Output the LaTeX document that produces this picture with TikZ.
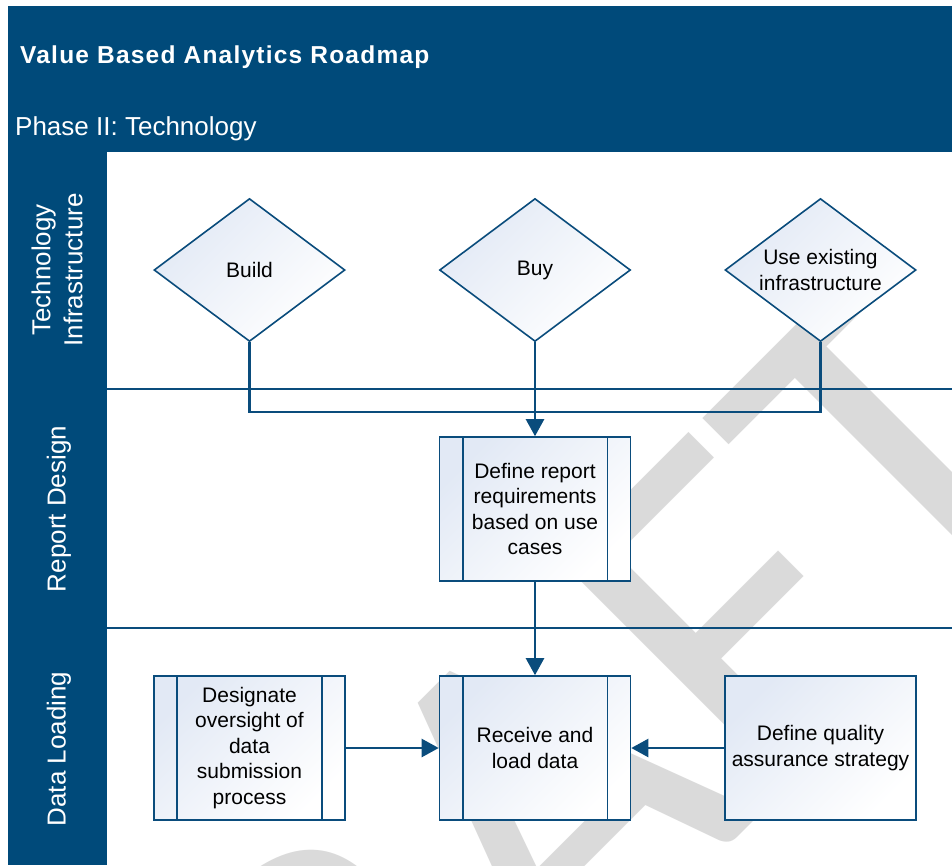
\documentclass[tikz,border=0pt]{standalone}
\usepackage{fontspec}
\setmainfont{Liberation Sans}
\newfontfamily\wmfont{Carlito}
\usetikzlibrary{shapes.geometric,arrows.meta,calc}
\definecolor{hdr}{RGB}{0,74,122}
\definecolor{ln}{RGB}{10,76,124}
\definecolor{boxa}{RGB}{226,233,245}
\definecolor{wm}{RGB}{218,218,218}
\begin{document}
\begin{tikzpicture}[x=1pt,y=-1pt,
  lbl/.style={text=white, font=\fontsize{26}{32}\selectfont, rotate=90, align=center, inner sep=0pt},
  dec/.style={diamond, draw=ln, line width=1.6pt, top color=boxa, bottom color=white, shading angle=45,
    minimum width=191pt, minimum height=143pt, inner sep=0pt, shape aspect=1.34, align=center,
    font=\fontsize{21}{25.5}\selectfont},
  proc/.style={rectangle, draw=ln, line width=1.6pt, top color=boxa, bottom color=white, shading angle=45,
    minimum width=191pt, minimum height=144pt, inner sep=0pt, align=center,
    font=\fontsize{21}{25.5}\selectfont},
  conn/.style={draw=ln, line width=2.4pt},
  arr/.style={conn, -{Triangle[length=17pt,width=18pt]}},
  bar/.style={draw=ln, line width=1.6pt},
]
\useasboundingbox (0,0) rectangle (952,865);
\fill[white] (0,0) rectangle (952,865);
% frame
\fill[hdr] (8,6) rectangle (952,865);
\fill[white] (107,152) rectangle (952,865);
% watermark
\begin{scope}
\clip (107,152) rectangle (952,865);
\node[rotate=45, text=wm, font=\wmfont\fontsize{500}{520}\selectfont, inner sep=0pt] (wmark) at (510,838) {DRAFT};
\end{scope}
% lane separators
\draw[ln, line width=2pt] (107,389) -- (952,389);
\draw[ln, line width=2pt] (107,628) -- (952,628);
% title texts
\node[anchor=base west, text=white, inner sep=0pt,
  font=\bfseries\fontsize{24.5}{28}\selectfont\addfontfeature{LetterSpace=5}] (title) at (20,63) {Value Based Analytics Roadmap};
\node[anchor=base west, text=white, inner sep=0pt, font=\fontsize{26}{30}\selectfont] (phase) at (15,135) {Phase II: Technology};
% lane labels
\node[lbl] (lane1) at (57,270) {Technology\\Infrastructure};
\node[lbl] (lane2) at (59,509) {Report Design};
\node[lbl] (lane3) at (59,749) {Data Loading};
% decisions
\node[dec] (build) at (249.5,270) {Build};
\node[dec] (buy) at (535,270) {Buy};
\node[dec] (use) at (820.5,270) {Use existing\\infrastructure};
% processes
\node[proc] (req) at (535,509) {Define report\\requirements\\based on use\\cases};
\node[proc] (recv) at (535,748) {Receive and\\load data};
\node[proc] (desig) at (249.5,748) {Designate\\oversight of\\data\\submission\\process};
\node[proc] (qual) at (820.5,748) {Define quality\\assurance strategy};
\foreach \n in {req,recv,desig}{
  \draw[bar] ($(\n.north west)+(24,0)$) -- ($(\n.south west)+(24,0)$);
  \draw[bar] ($(\n.north east)+(-24,0)$) -- ($(\n.south east)+(-24,0)$);
}
% connectors
\coordinate (bus) at (535,412);
\draw[conn] (build.south) |- (bus);
\draw[conn] (use.south) |- (bus);
\draw[arr] (buy.south) -- (req.north);
\draw[arr] (req.south) -- (recv.north);
\draw[arr] (desig.east) -- (recv.west);
\draw[arr] (qual.west) -- (recv.east);
\end{tikzpicture}
\end{document}
